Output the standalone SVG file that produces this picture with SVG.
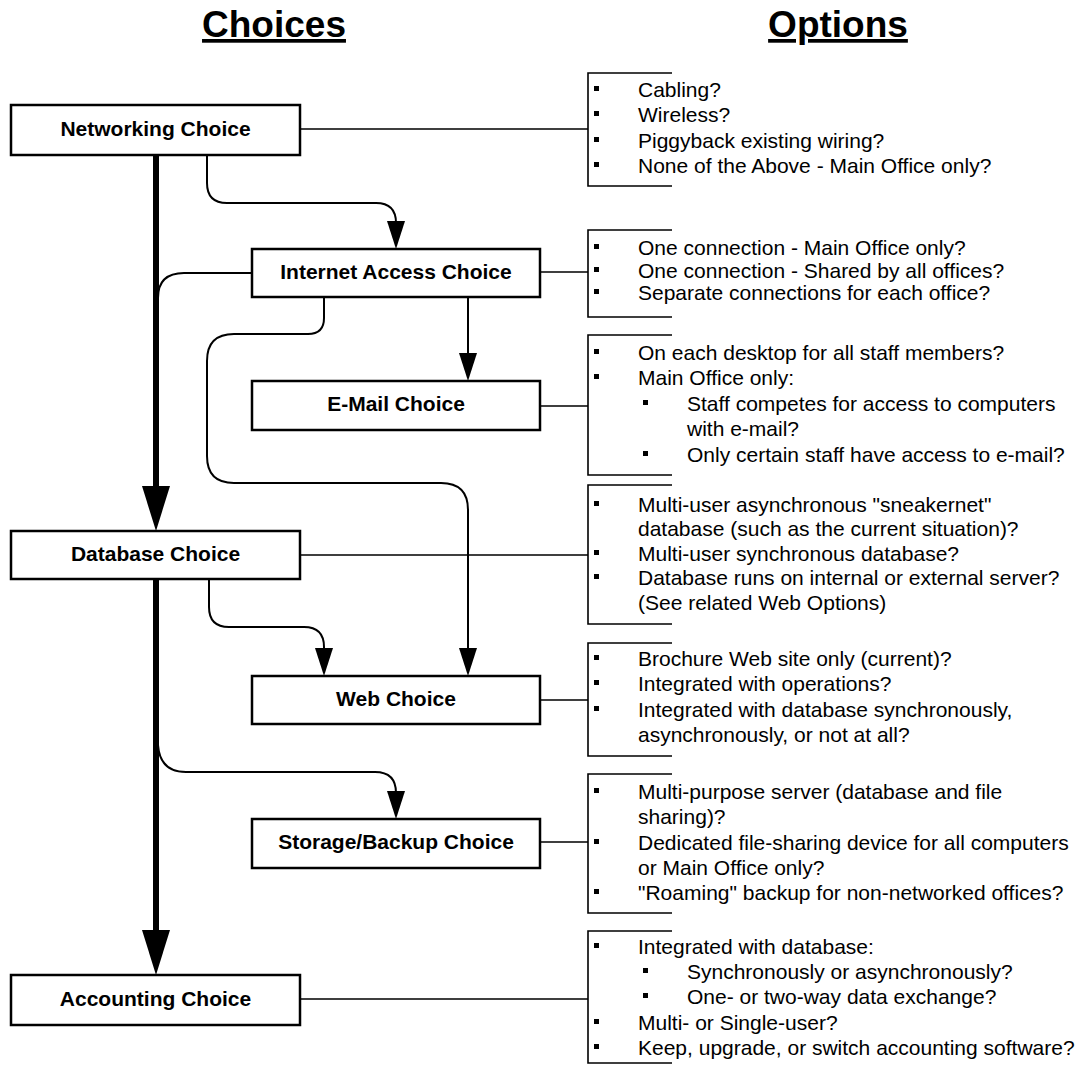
<svg xmlns="http://www.w3.org/2000/svg" width="1085" height="1067" viewBox="0 0 1085 1067">
<style>
.hdr{font-family:"Liberation Sans",Arial,sans-serif;font-weight:bold;font-size:37px;text-anchor:middle;text-decoration:underline;fill:#000}
.box{fill:#fff;stroke:#000;stroke-width:2.5}
.lbl{font-family:"Liberation Sans",Arial,sans-serif;font-weight:bold;font-size:21px;text-anchor:middle;fill:#000}
.opt{font-family:"Liberation Sans",Arial,sans-serif;font-size:21px;fill:#000}
.con{fill:none;stroke:#000;stroke-width:2}
.thick{fill:none;stroke:#000;stroke-width:6}
.brk{fill:none;stroke:#000;stroke-width:1.6}
.bul{fill:#000}
</style>
<defs>
<marker id="ah" markerUnits="userSpaceOnUse" markerWidth="30" markerHeight="20" refX="8" refY="9" orient="auto">
<path d="M0,0 L28,9 L0,18 z" fill="#000"/>
</marker>
<marker id="ahBig" markerUnits="userSpaceOnUse" markerWidth="46" markerHeight="30" refX="10" refY="14" orient="auto">
<path d="M0,0 L45,14 L0,28 z" fill="#000"/>
</marker>
<rect id="b" width="5" height="5"/>
</defs>

<text class="hdr" x="274" y="37">Choices</text>
<text class="hdr" x="838" y="37">Options</text>

<g id="connectors">
<path class="thick" d="M156,155 V496" marker-end="url(#ahBig)"/>
<path class="thick" d="M156,579 V940" marker-end="url(#ahBig)"/>
<path class="con" d="M252,273 H184 Q158,273 158,298"/>
<path class="con" d="M207,155 V183 Q207,203 227,203 H376 Q396,203 396,223 V229" marker-end="url(#ah)"/>
<path class="con" d="M468,297 V361" marker-end="url(#ah)"/>
<path class="con" d="M324,297 V318 Q324,334 308,334 H234 Q207,334 207,361 V456 Q207,483 234,483 H441 Q468,483 468,510 V656" marker-end="url(#ah)"/>
<path class="con" d="M209,579 V607 Q209,627 229,627 H304 Q324,627 324,647 V656" marker-end="url(#ah)"/>
<path class="con" d="M158,745 Q160,772 186,772 H375 Q396,772 396,793 V799" marker-end="url(#ah)"/>
<!-- option brackets -->
<path class="brk" d="M300,129 H588 M672,73 H588 V186 H672"/>
<path class="brk" d="M540,272 H588 M672,230 H588 V317 H672"/>
<path class="brk" d="M540,406 H588 M672,335 H588 V475 H672"/>
<path class="brk" d="M300,555 H588 M672,485 H588 V624 H672"/>
<path class="brk" d="M540,700 H588 M672,643 H588 V756 H672"/>
<path class="brk" d="M540,842 H588 M672,774 H588 V913 H672"/>
<path class="brk" d="M300,999 H588 M672,931 H588 V1063 H672"/>
</g>

<g id="networking">
<rect class="box" x="11" y="105" width="289" height="50"/>
<text class="lbl" x="155.5" y="136">Networking Choice</text>
</g>
<g id="internet">
<rect class="box" x="252" y="249" width="288" height="48"/>
<text class="lbl" x="396" y="279">Internet Access Choice</text>
</g>
<g id="email">
<rect class="box" x="252" y="381" width="288" height="49"/>
<text class="lbl" x="396" y="411">E-Mail Choice</text>
</g>
<g id="database">
<rect class="box" x="11" y="531" width="289" height="48"/>
<text class="lbl" x="155.5" y="561">Database Choice</text>
</g>
<g id="web">
<rect class="box" x="252" y="676" width="288" height="48"/>
<text class="lbl" x="396" y="706">Web Choice</text>
</g>
<g id="storage">
<rect class="box" x="252" y="819" width="288" height="49"/>
<text class="lbl" x="396" y="849">Storage/Backup Choice</text>
</g>
<g id="accounting">
<rect class="box" x="11" y="975" width="289" height="50"/>
<text class="lbl" x="155.5" y="1006">Accounting Choice</text>
</g>

<g id="networking-options">
<use href="#b" x="594" y="86"/><text class="opt" x="638" y="97">Cabling?</text>
<use href="#b" x="594" y="111"/><text class="opt" x="638" y="122">Wireless?</text>
<use href="#b" x="594" y="137"/><text class="opt" x="638" y="148">Piggyback existing wiring?</text>
<use href="#b" x="594" y="162"/><text class="opt" x="638" y="173">None of the Above - Main Office only?</text>
</g>
<g id="internet-options">
<use href="#b" x="594" y="244"/><text class="opt" x="638" y="255">One connection - Main Office only?</text>
<use href="#b" x="594" y="267"/><text class="opt" x="638" y="278">One connection - Shared by all offices?</text>
<use href="#b" x="594" y="289"/><text class="opt" x="638" y="300">Separate connections for each office?</text>
</g>
<g id="email-options">
<use href="#b" x="594" y="349"/><text class="opt" x="638" y="360">On each desktop for all staff members?</text>
<use href="#b" x="594" y="374"/><text class="opt" x="638" y="385">Main Office only:</text>
<use href="#b" x="643" y="400"/><text class="opt" x="687" y="411">Staff competes for access to computers</text>
<text class="opt" x="687" y="436">with e-mail?</text>
<use href="#b" x="643" y="451"/><text class="opt" x="687" y="462">Only certain staff have access to e-mail?</text>
</g>
<g id="database-options">
<use href="#b" x="594" y="501"/><text class="opt" x="638" y="512">Multi-user asynchronous "sneakernet"</text>
<text class="opt" x="638" y="536">database (such as the current situation)?</text>
<use href="#b" x="594" y="550"/><text class="opt" x="638" y="561">Multi-user synchronous database?</text>
<use href="#b" x="594" y="574"/><text class="opt" x="638" y="585">Database runs on internal or external server?</text>
<text class="opt" x="638" y="610">(See related Web Options)</text>
</g>
<g id="web-options">
<use href="#b" x="594" y="655"/><text class="opt" x="638" y="666">Brochure Web site only (current)?</text>
<use href="#b" x="594" y="680"/><text class="opt" x="638" y="691">Integrated with operations?</text>
<use href="#b" x="594" y="706"/><text class="opt" x="638" y="717">Integrated with database synchronously,</text>
<text class="opt" x="638" y="742">asynchronously, or not at all?</text>
</g>
<g id="storage-options">
<use href="#b" x="594" y="788"/><text class="opt" x="638" y="799">Multi-purpose server (database and file</text>
<text class="opt" x="638" y="824">sharing)?</text>
<use href="#b" x="594" y="839"/><text class="opt" x="638" y="850">Dedicated file-sharing device for all computers</text>
<text class="opt" x="638" y="875">or Main Office only?</text>
<use href="#b" x="594" y="889"/><text class="opt" x="638" y="900">"Roaming" backup for non-networked offices?</text>
</g>
<g id="accounting-options">
<use href="#b" x="594" y="943"/><text class="opt" x="638" y="954">Integrated with database:</text>
<use href="#b" x="643" y="968"/><text class="opt" x="687" y="979">Synchronously or asynchronously?</text>
<use href="#b" x="643" y="993"/><text class="opt" x="687" y="1004">One- or two-way data exchange?</text>
<use href="#b" x="594" y="1019"/><text class="opt" x="638" y="1030">Multi- or Single-user?</text>
<use href="#b" x="594" y="1044"/><text class="opt" x="638" y="1055">Keep, upgrade, or switch accounting software?</text>
</g>
</svg>
